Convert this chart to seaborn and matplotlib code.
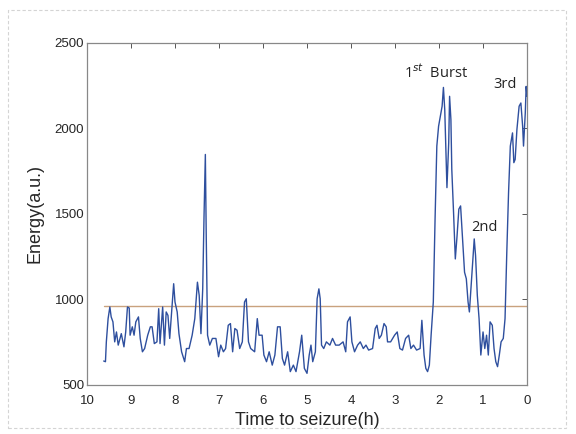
import matplotlib
matplotlib.use("Agg")
import matplotlib.pyplot as plt
import seaborn as sns
import pandas as pd
from matplotlib.patches import Rectangle

# ---- data ----
time_h = [9.62, 9.58, 9.56, 9.52, 9.48, 9.45, 9.41, 9.37, 9.33, 9.29, 9.22, 9.16, 9.12, 9.08, 9.04,
          9.02, 8.97, 8.93, 8.89, 8.83, 8.79, 8.74, 8.69, 8.62, 8.56, 8.52, 8.47, 8.41, 8.37, 8.34,
          8.28, 8.24, 8.20, 8.16, 8.12, 8.07, 8.03, 8.00, 7.95, 7.91, 7.85, 7.78, 7.74, 7.68, 7.61,
          7.55, 7.49, 7.45, 7.41, 7.37, 7.34, 7.31, 7.29, 7.26, 7.21, 7.15, 7.07, 7.01, 6.96, 6.90,
          6.85, 6.79, 6.74, 6.69, 6.64, 6.59, 6.53, 6.47, 6.42, 6.38, 6.33, 6.28, 6.19, 6.13, 6.09,
          6.02, 5.98, 5.92, 5.86, 5.79, 5.73, 5.67, 5.61, 5.56, 5.51, 5.44, 5.38, 5.31, 5.25, 5.17,
          5.12, 5.06, 5.00, 4.95, 4.91, 4.87, 4.81, 4.77, 4.73, 4.70, 4.67, 4.62, 4.56, 4.48, 4.42,
          4.35, 4.27, 4.18, 4.12, 4.08, 4.02, 3.98, 3.92, 3.85, 3.79, 3.72, 3.66, 3.60, 3.51, 3.45,
          3.41, 3.36, 3.31, 3.25, 3.20, 3.17, 3.10, 3.01, 2.95, 2.89, 2.83, 2.76, 2.69, 2.64, 2.58,
          2.51, 2.43, 2.39, 2.34, 2.30, 2.26, 2.22, 2.18, 2.13, 2.09, 2.05, 2.01, 1.97, 1.93, 1.90,
          1.87, 1.84, 1.82, 1.78, 1.76, 1.73, 1.71, 1.67, 1.63, 1.59, 1.55, 1.51, 1.47, 1.42, 1.38,
          1.34, 1.31, 1.28, 1.24, 1.20, 1.17, 1.13, 1.09, 1.05, 1.00, 0.96, 0.92, 0.88, 0.84, 0.79,
          0.75, 0.71, 0.67, 0.63, 0.59, 0.54, 0.50, 0.46, 0.42, 0.38, 0.33, 0.30, 0.27, 0.23, 0.18,
          0.14, 0.10, 0.08, 0.04, 0.02, 0.00]
energy = [640, 636, 752, 888, 956, 898, 869, 752, 810, 733, 800, 723, 810, 956, 950,
          791, 840, 791, 869, 898, 772, 694, 713, 791, 840, 840, 742, 752, 946, 742,
          956, 733, 927, 907, 772, 946, 1092, 985, 927, 800, 694, 636, 713, 713, 791,
          888, 1101, 1024, 800, 1062, 1489, 1848, 1373, 791, 733, 772, 772, 665, 733, 694,
          713, 849, 859, 694, 830, 820, 713, 752, 985, 1004, 752, 713, 694, 888, 791,
          791, 675, 636, 694, 616, 675, 840, 840, 655, 616, 694, 578, 616, 578, 694,
          791, 597, 568, 675, 733, 636, 694, 1004, 1062, 1004, 733, 713, 752, 733, 772,
          733, 733, 752, 694, 869, 898, 752, 694, 733, 752, 713, 733, 704, 713, 830,
          849, 772, 791, 859, 840, 752, 752, 791, 810, 713, 704, 772, 791, 713, 733,
          704, 713, 878, 675, 597, 578, 616, 791, 985, 1470, 1897, 2013, 2071, 2130, 2240,
          2110, 1838, 1654, 1916, 2188, 2052, 1761, 1509, 1237, 1373, 1528, 1547, 1373, 1159, 1121,
          985, 927, 1043, 1198, 1354, 1257, 1024, 888, 675, 810, 713, 791, 675, 869, 849,
          713, 636, 607, 675, 752, 772, 888, 1276, 1625, 1897, 1974, 1800, 1819, 1994, 2130,
          2149, 2013, 1897, 2091, 2246, 2188]
threshold = 962
threshold_span = [9.62, 0.0]
x_ticks = [10, 9, 8, 7, 6, 5, 4, 3, 2, 1, 0]
y_ticks = [500, 1000, 1500, 2000, 2500]
annotations = [("1$^{st}$  Burst", 2.07, 2325), ("3rd", 0.50, 2255), ("2nd", 0.96, 1420)]

sns.set_theme(style="white")
plt.rcParams['font.family'] = ['Liberation Sans', 'DejaVu Sans']

df = pd.DataFrame({"t": time_h, "E": energy})

fig = plt.figure(figsize=(5.76, 4.34), dpi=100)
ax = fig.add_axes([0.151, 0.113, 0.764, 0.788])

ax.plot(threshold_span, [threshold, threshold], color="#c9a27e", lw=1.0, zorder=1)
sns.lineplot(data=df, x="t", y="E", ax=ax, color="#2e4f9e", lw=1.0, estimator=None,
             sort=False, zorder=2)

ax.set_xlim(10, 0)
ax.set_ylim(500, 2500)
ax.set_xticks(x_ticks)
ax.set_xticklabels([str(v) for v in x_ticks])
ax.set_yticks(y_ticks)
ax.set_xlabel("Time to seizure(h)", fontsize=13, labelpad=3)
ax.set_ylabel("Energy(a.u.)", fontsize=13, labelpad=8)
ax.tick_params(axis="both", which="major", direction="in", length=3.5, width=0.7,
               color="#555555", labelsize=9.5, top=True, right=True)
ax.tick_params(axis="x", pad=7.5)
ax.tick_params(axis="y", pad=2)
for s in ax.spines.values():
    s.set_color("#888888")
    s.set_linewidth(0.9)
    s.set_linestyle((0, (2, 1)))

for txt, tx, ty in annotations:
    ax.text(tx, ty, txt, fontsize=10.5, ha="center", va="center",
            family=["Open Sans", "DejaVu Sans"], color="#222222")

fig.patches.append(Rectangle((0.014, 0.014), 0.968, 0.962, transform=fig.transFigure,
                             fill=False, edgecolor="#d4d4d4", lw=0.8, ls=(0, (3, 2))))

fig.savefig("out.png", dpi=100)
